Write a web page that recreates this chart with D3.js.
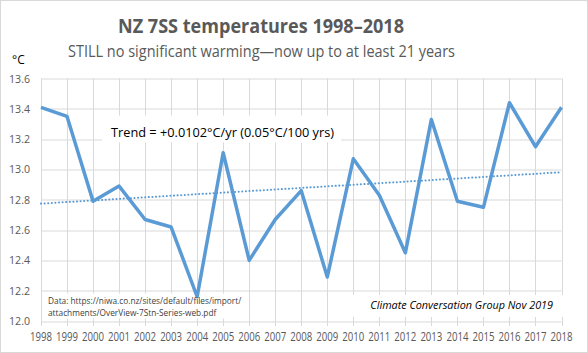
<!DOCTYPE html>
<html>
<head>
<meta charset="utf-8">
<script src="https://cdn.jsdelivr.net/npm/d3@7"></script>
<style>
  body { margin: 0; background: #fff; }
  svg { display: block; font-family: "Open Sans", "Noto Sans", sans-serif; }
</style>
</head>
<body>
<div id="chart"></div>
<script>
// data
const years = [1998, 1999, 2000, 2001, 2002, 2003, 2004, 2005, 2006, 2007, 2008,
  2009, 2010, 2011, 2012, 2013, 2014, 2015, 2016, 2017, 2018];
const temps = [13.41, 13.35, 12.79, 12.89, 12.67, 12.62, 12.16, 13.11, 12.40, 12.67, 12.86,
  12.29, 13.07, 12.83, 12.45, 13.33, 12.79, 12.75, 13.44, 13.15, 13.41];
const yTicks = [12.0, 12.2, 12.4, 12.6, 12.8, 13.0, 13.2, 13.4, 13.6];
const title = "NZ 7SS temperatures 1998\u20132018";
const subtitle = "STILL no significant warming\u2014now up to at least 21 years";
const trendLabel = "Trend = +0.0102\u00b0C/yr (0.05\u00b0C/100 yrs)";
const sourceLines = ["Data: https://niwa.co.nz/sites/default/files/import/",
  "attachments/OverView-7Stn-Series-web.pdf"];
const credit = "Climate Conversation Group Nov 2019";

const W = 588, H = 353;
const margin = { left: 41, right: 26.5, top: 78.5, bottom: 32 };
const plotW = W - margin.left - margin.right;
const plotH = H - margin.top - margin.bottom;

const svg = d3.select("#chart").append("svg")
  .attr("width", W)
  .attr("height", H);

// outer frame
svg.append("rect")
  .attr("x", 0.5).attr("y", 0.5)
  .attr("width", W - 1).attr("height", H - 1)
  .attr("fill", "#fff")
  .attr("stroke", "#d9d9d9");

const x = d3.scaleLinear().domain([1998, 2018]).range([0, plotW]);
const y = d3.scaleLinear().domain([12.0, 13.6]).range([plotH, 0]);

const g = svg.append("g")
  .attr("transform", `translate(${margin.left},${margin.top})`);

// grid
g.append("g").selectAll("line").data(yTicks).join("line")
  .attr("x1", 0).attr("x2", plotW)
  .attr("y1", d => Math.round(y(d)) + 0.5).attr("y2", d => Math.round(y(d)) + 0.5)
  .attr("stroke", "#d9d9d9");
g.append("g").selectAll("line").data(years).join("line")
  .attr("x1", d => Math.round(x(d)) + 0.5).attr("x2", d => Math.round(x(d)) + 0.5)
  .attr("y1", 0).attr("y2", plotH + 5)
  .attr("stroke", "#d9d9d9");

// y axis labels
g.append("g").selectAll("text").data(yTicks).join("text")
  .attr("x", -11)
  .attr("y", d => y(d) + 4)
  .attr("text-anchor", "end")
  .attr("font-size", 11.5)
  .attr("textLength", 21)
  .attr("lengthAdjust", "spacingAndGlyphs")
  .attr("fill", "#595959")
  .text(d => d.toFixed(1));

// x axis labels
g.append("g").selectAll("text").data(years).join("text")
  .attr("x", d => x(d))
  .attr("y", plotH + 20)
  .attr("text-anchor", "middle")
  .attr("font-size", 12)
  .attr("textLength", 22)
  .attr("lengthAdjust", "spacingAndGlyphs")
  .attr("fill", "#595959")
  .text(d => d);

// least squares trend from the series
const mx = d3.mean(years), my = d3.mean(temps);
const slope = d3.sum(years, (d, i) => (d - mx) * (temps[i] - my)) / d3.sum(years, d => (d - mx) ** 2);
const trend = t => my + slope * (t - mx);

g.append("line")
  .attr("x1", x(1998)).attr("x2", x(2018))
  .attr("y1", y(trend(1998))).attr("y2", y(trend(2018)))
  .attr("stroke", "#5b9bd5")
  .attr("stroke-width", 2)
  .attr("stroke-dasharray", "0.1 3.5")
  .attr("stroke-linecap", "round");

// annotation boxes (white, cover the grid)
g.append("rect")
  .attr("x", 4).attr("y", 215).attr("width", 202).attr("height", 25)
  .attr("fill", "#fff");
g.append("rect")
  .attr("x", 304).attr("y", 216.5).attr("width", 218).attr("height", 22)
  .attr("fill", "#fff");

// series line
g.append("path")
  .datum(temps)
  .attr("fill", "none")
  .attr("stroke", "#5b9bd5")
  .attr("stroke-width", 3.5)
  .attr("stroke-linejoin", "round")
  .attr("d", d3.line().x((d, i) => x(years[i])).y(d => y(d)));

// trend label with white box behind it
const tlBox = g.append("rect").attr("fill", "#fff");
const tl = g.append("text")
  .attr("x", 70).attr("y", 58.5)
  .attr("font-size", 13.3)
  .attr("textLength", 223)
  .attr("lengthAdjust", "spacingAndGlyphs")
  .attr("fill", "#000")
  .text(trendLabel);
const bb = tl.node().getBBox();
tlBox.attr("x", bb.x - 9).attr("y", 37)
  .attr("width", bb.width + 16).attr("height", 27);

// source text
g.append("g").selectAll("text").data(sourceLines).join("text")
  .attr("x", 7)
  .attr("y", (d, i) => 225.5 + i * 11.5)
  .attr("font-size", 8.3)
  .attr("fill", "#404040")
  .text(d => d);

g.append("text")
  .attr("x", 512).attr("y", 230.5)
  .attr("text-anchor", "end")
  .attr("font-size", 10.8)
  .attr("font-style", "italic")
  .attr("fill", "#000")
  .text(credit);

// titles
svg.append("text")
  .attr("x", 261).attr("y", 33)
  .attr("text-anchor", "middle")
  .attr("font-size", 19)
  .attr("font-weight", "bold")
  .attr("textLength", 286)
  .attr("lengthAdjust", "spacingAndGlyphs")
  .attr("fill", "#595959")
  .text(title);
svg.append("text")
  .attr("x", 261.5).attr("y", 57)
  .attr("text-anchor", "middle")
  .attr("font-size", 15.5)
  .attr("textLength", 387)
  .attr("lengthAdjust", "spacingAndGlyphs")
  .attr("fill", "#595959")
  .text(subtitle);
svg.append("text")
  .attr("x", 12).attr("y", 64)
  .attr("font-size", 12)
  .attr("fill", "#000")
  .text("\u00b0C");
</script>
</body>
</html>
